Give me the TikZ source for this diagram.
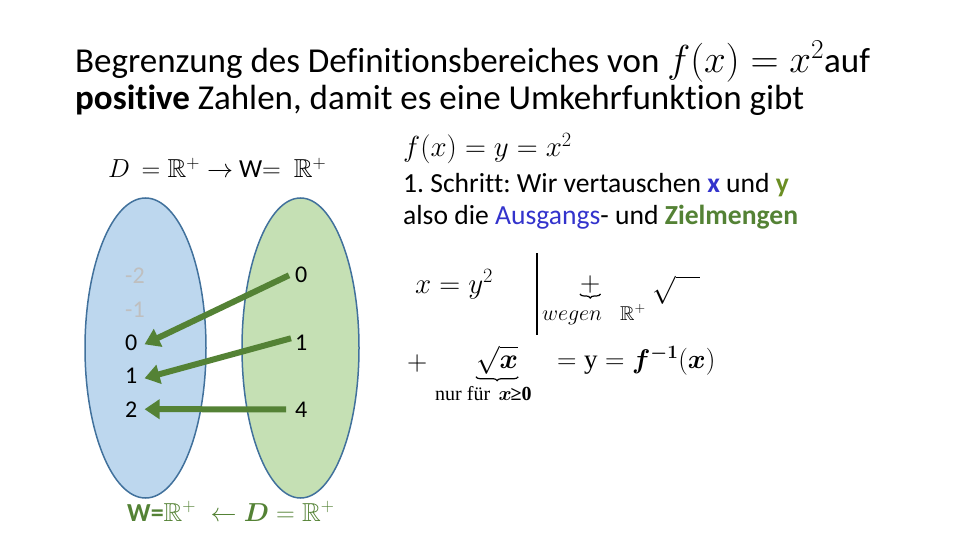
\RequirePackage{fix-cm}
\documentclass[tikz,border=0pt]{standalone}
\usepackage{amsmath,amssymb,bm}
\usepackage{fontspec}
\setmainfont{Carlito}[Ligatures=NoCommon]
\newfontfamily\timesfont{Liberation Serif}
\usetikzlibrary{arrows.meta,decorations.pathreplacing}
\frenchspacing
\definecolor{ellblue}{HTML}{BDD7EE}
\definecolor{ellgreen}{HTML}{C5E0B4}
\definecolor{elledge}{HTML}{41719C}
\definecolor{arrgreen}{HTML}{548235}
\definecolor{txtblue}{HTML}{3333CC}
\definecolor{txtolive}{HTML}{6B8E23}
\definecolor{txtgray}{HTML}{BFBFBF}
\tikzset{
  ell/.style={draw=elledge, line width=1.5pt},
  num/.style={anchor=base west, inner sep=1pt, font=\fontsize{24}{28}\selectfont},
  arr/.style={draw=arrgreen, line width=6pt, -{Triangle[length=15pt,width=19pt]}},
  txt/.style={anchor=base west, inner sep=0pt},
  ubrace/.style={decorate, decoration={brace, mirror, amplitude=4pt}, line width=1.2pt},
}
\begin{document}
\begin{tikzpicture}[x=1pt,y=-1pt]
\useasboundingbox (0,0) rectangle (960,540);
% title
\node[txt, font=\fontsize{35}{40}\selectfont] (t1) at (75,73) {Begrenzung des Definitionsbereiches von {\fontsize{39}{40}\selectfont$f(x) = x^2$}auf};
\node[txt, font=\fontsize{35}{40}\selectfont] (t2) at (75,110) {\textbf{positive} Zahlen, damit es eine Umkehrfunktion gibt};
% top label
\node[txt, font=\fontsize{26}{30}\selectfont] (dw) at (108,178) {$D\, = \mathbb{R}^+ \rightarrow$ W$=\ \mathbb{R}^+$};
% ellipses
\path[ell, fill=ellblue] (145.5,348) ellipse [x radius=60.5, y radius=150];
\path[ell, fill=ellgreen] (300.5,348) ellipse [x radius=58.5, y radius=150];
% numbers
\node[num, text=txtgray] (lm2) at (124,283) {-2};
\node[num, text=txtgray] (lm1) at (124,317) {-1};
\node[num] (l0) at (124,350) {0};
\node[num] (l1) at (124,383) {1};
\node[num] (l2) at (124,417) {2};
\node[num] (r0) at (294,282) {0};
\node[num] (r1) at (294,350) {1};
\node[num] (r4) at (294,417) {4};
% arrows
\draw[arr] ([xshift=-5pt,yshift=-1pt]r0.west) -- ([xshift=6pt,yshift=-2pt]l0.east);
\draw[arr] ([xshift=-3pt,yshift=4pt]r1.west) -- ([xshift=6pt,yshift=-3pt]l1.east);
\draw[arr] ([xshift=-8pt,yshift=0pt]r4.west) -- ([xshift=6pt,yshift=0pt]l2.east);
% bottom label
\node[txt, font=\fontsize{26}{30}\selectfont, text=arrgreen] (wd) at (127,521) {\textbf{W=}$\mathbb{R}^+ \;\leftarrow \bm{D} = \mathbb{R}^+$};
% right text
\node[txt, font=\fontsize{29}{32}\selectfont] (fx) at (403,157) {$f(x) = y = x^2$};
\node[txt, font=\fontsize{27.6}{30}\selectfont] (s1) at (403,192) {1. Schritt: Wir vertauschen \textcolor{txtblue}{\textbf{x}} und \textcolor{txtolive}{\textbf{y}}};
\node[txt, font=\fontsize{27.6}{30}\selectfont] (s2) at (403,224) {also die \textcolor{txtblue}{Ausgangs}- und \textcolor{arrgreen}{\textbf{Zielmengen}}};
% math block
\node[txt, font=\fontsize{29}{32}\selectfont] (eq1) at (415,293) {$x = y^2$};
\coordinate (bartop) at (537,253);
\coordinate (barbot) at (537,335);
\draw[line width=2pt] (bartop) -- (barbot);
\node[txt, font=\fontsize{28}{32}\selectfont] (pl1) at (580,291) {${+}$};
\draw[ubrace] ([yshift=-1pt]pl1.south west) -- ([yshift=-1pt]pl1.south east);
\node[txt, font=\fontsize{22}{26}\selectfont] (weg) at (542,320) {$wegen$};
\node[txt, font=\fontsize{20}{24}\selectfont] (rp) at (620,320) {$\mathbb{R}^+$};
\node[txt, font=\fontsize{28}{32}\selectfont] (sq) at (652,292) {$\sqrt{\hspace{24pt}}$};
\node[txt, font=\fontsize{28}{32}\selectfont] (pl2) at (407,370) {$+$};
\node[txt, font=\fontsize{28}{32}\selectfont] (sqx) at (476,368) {$\sqrt{\bm{x}}$};
\draw[ubrace] ([yshift=-2pt]sqx.south west) -- ([yshift=-2pt]sqx.south east);
\node[txt, font=\fontsize{20}{24}\selectfont\timesfont] (nur) at (435,400) {nur für\, $\bm{x}$\kern-1pt\textbf{≥0}};
\node[txt, font=\fontsize{27}{32}\selectfont] (res) at (557,368) {$= \text{\timesfont y} = \bm{f}^{\bm{-1}}(\bm{x})$};
\end{tikzpicture}
\end{document}
